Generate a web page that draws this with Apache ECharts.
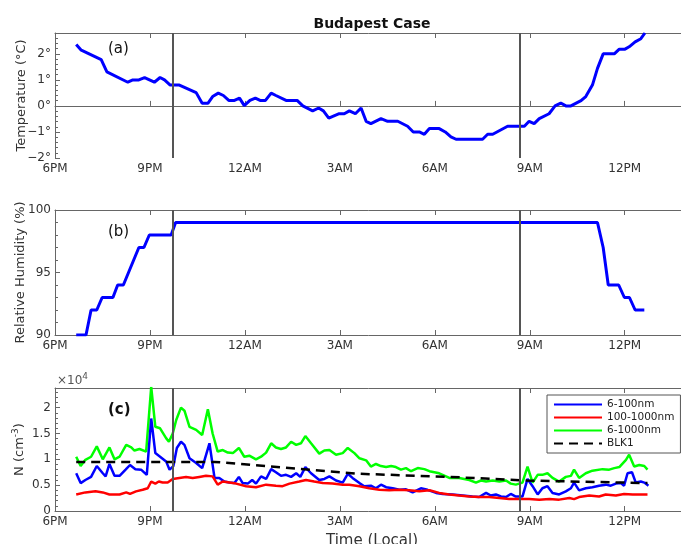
<!DOCTYPE html>
<html>
<head>
<meta charset="utf-8">
<script src="https://cdn.jsdelivr.net/npm/echarts@6/dist/echarts.min.js"></script>
<style>
  html, body { margin: 0; padding: 0; background: #fff; }
  #chart { width: 681px; height: 544px; }
</style>
</head>
<body>
<div id="chart"></div>
<script>
// Time is in hours after 6 PM local time.
const xTickLabels = ['6PM', '9PM', '12AM', '3AM', '6AM', '9AM', '12PM', '3PM'];
const eventHours = [3.72, 14.67];

// (a) Temperature, deg C
const tempHrs = [0.67, 0.83, 1.46, 1.64, 2.30, 2.46, 2.65, 2.83, 3.14, 3.32, 3.46, 3.64, 3.93, 4.46, 4.65, 4.83,
  4.98, 5.16, 5.32, 5.49, 5.67, 5.83, 5.98, 6.16, 6.33, 6.48, 6.65, 6.83, 6.98, 7.30, 7.65, 7.83, 8.14, 8.33,
  8.48, 8.65, 8.98, 9.14, 9.30, 9.49, 9.67, 9.83, 9.98, 10.30, 10.51, 10.83, 11.14, 11.32, 11.51, 11.67, 11.83,
  12.14, 12.33, 12.51, 12.67, 13.51, 13.67, 13.83, 14.30, 14.83, 14.98, 15.14, 15.30, 15.61, 15.80, 15.98,
  16.14, 16.30, 16.62, 16.77, 16.98, 17.14, 17.32, 17.67, 17.83, 18.01, 18.14, 18.33, 18.51, 18.64];
const tempC = [2.36, 2.14, 1.78, 1.31, 0.91, 1.00, 1.00, 1.09, 0.91, 1.09, 1.00, 0.80, 0.80, 0.51, 0.10, 0.10,
  0.36, 0.49, 0.40, 0.21, 0.21, 0.30, 0.01, 0.21, 0.30, 0.21, 0.21, 0.49, 0.40, 0.21, 0.21, 0.00, -0.19, -0.08,
  -0.19, -0.47, -0.30, -0.30, -0.19, -0.30, -0.08, -0.59, -0.68, -0.49, -0.59, -0.59, -0.78, -1.00, -1.00, -1.09, -0.87,
  -0.87, -1.00, -1.19, -1.28, -1.28, -1.09, -1.09, -0.78, -0.78, -0.59, -0.68, -0.49, -0.30, 0.00, 0.11,
  0.00, 0.00, 0.20, 0.36, 0.80, 1.44, 2.00, 2.00, 2.18, 2.18, 2.27, 2.46, 2.58, 2.80];

// (b) Relative humidity, %
const rhHrs = [0.67, 0.98, 1.14, 1.32, 1.49, 1.83, 1.98, 2.16, 2.65, 2.81, 2.98, 3.67, 3.81, 17.14, 17.32, 17.48,
  17.81, 17.99, 18.15, 18.33, 18.62];
const rhPct = [90, 90, 92, 92, 93, 93, 94, 94, 97, 97, 98, 98, 99, 99, 97, 94, 94, 93, 93, 92, 92];

// (c) Number concentration, units of 1e4 cm^-3
const n6to100Hrs = [0.67, 0.81, 0.96, 1.14, 1.32, 1.51, 1.60, 1.72, 1.88, 2.04, 2.23, 2.37, 2.54, 2.72, 2.90, 3.04,
  3.17, 3.32, 3.51, 3.62, 3.74, 3.85, 3.98, 4.09, 4.25, 4.46, 4.65, 4.88, 5.04, 5.19, 5.35, 5.51, 5.67, 5.81,
  5.93, 6.09, 6.23, 6.35, 6.51, 6.67, 6.83, 6.98, 7.14, 7.30, 7.46, 7.62, 7.75, 7.91, 8.09, 8.35, 8.51, 8.67,
  8.88, 9.09, 9.25, 9.40, 9.62, 9.77, 9.98, 10.14, 10.30, 10.46, 10.67, 10.88, 11.09, 11.30, 11.56, 11.77,
  12.04, 12.25, 12.56, 12.88, 13.19, 13.40, 13.62, 13.77, 13.93, 14.09, 14.25, 14.40, 14.56, 14.77, 14.93,
  15.09, 15.25, 15.40, 15.56, 15.72, 15.93, 16.14, 16.30, 16.40, 16.56, 16.77, 16.98, 17.19, 17.40, 17.56,
  17.72, 17.88, 17.98, 18.09, 18.23, 18.35, 18.51, 18.62, 18.75];
const n6to100 = [0.73, 0.54, 0.60, 0.66, 0.87, 0.73, 0.67, 0.91, 0.68, 0.68, 0.80, 0.89, 0.81, 0.80, 0.70, 1.79,
  1.12, 1.05, 0.96, 0.80, 0.87, 1.22, 1.34, 1.28, 1.02, 0.93, 0.83, 1.31, 0.64, 0.64, 0.57, 0.55, 0.54, 0.66,
  0.54, 0.53, 0.60, 0.53, 0.67, 0.62, 0.81, 0.75, 0.68, 0.70, 0.66, 0.73, 0.66, 0.85, 0.73, 0.60, 0.62, 0.67,
  0.59, 0.55, 0.72, 0.64, 0.54, 0.48, 0.49, 0.44, 0.51, 0.46, 0.44, 0.41, 0.42, 0.36, 0.44, 0.41,
  0.35, 0.33, 0.32, 0.30, 0.28, 0.27, 0.35, 0.30, 0.32, 0.28, 0.27, 0.33, 0.28, 0.28, 0.62,
  0.48, 0.32, 0.44, 0.48, 0.35, 0.32, 0.38, 0.44, 0.55, 0.40, 0.44, 0.46, 0.49, 0.51, 0.49,
  0.53, 0.54, 0.49, 0.73, 0.75, 0.55, 0.57, 0.55, 0.49];

const n100to1000Hrs = [0.67, 0.96, 1.28, 1.51, 1.72, 2.04, 2.25, 2.37, 2.56, 2.77, 2.93, 3.04, 3.17, 3.28, 3.40,
  3.56, 3.72, 3.93, 4.14, 4.35, 4.56, 4.77, 4.98, 5.14, 5.30, 5.51, 5.72, 6.04, 6.35, 6.67, 6.98, 7.19, 7.41,
  7.72, 7.93, 8.19, 8.46, 8.77, 9.09, 9.30, 9.62, 9.93, 10.25, 10.56, 10.88, 11.19, 11.51, 11.83, 12.14, 12.46,
  12.77, 13.09, 13.40, 13.72, 14.04, 14.35, 14.67, 14.98, 15.30, 15.62, 15.93, 16.25, 16.40, 16.56, 16.88,
  17.19, 17.40, 17.72, 17.98, 18.25, 18.72];
const n100to1000 = [0.32, 0.36, 0.38, 0.36, 0.32, 0.32, 0.36, 0.33, 0.38, 0.41, 0.44, 0.57, 0.53, 0.57, 0.55,
  0.55, 0.62, 0.64, 0.66, 0.64, 0.66, 0.68, 0.67, 0.51, 0.57, 0.55, 0.53, 0.48, 0.46, 0.51, 0.49, 0.48, 0.53,
  0.57, 0.60, 0.57, 0.54, 0.53, 0.51, 0.51, 0.48, 0.44, 0.41, 0.40, 0.41, 0.40, 0.38, 0.40, 0.35, 0.32,
  0.30, 0.28, 0.27, 0.27, 0.25, 0.23, 0.23, 0.23, 0.22, 0.23, 0.22, 0.25, 0.23, 0.27, 0.30,
  0.28, 0.32, 0.30, 0.33, 0.32, 0.32];

const n6to1000Hrs = [0.67, 0.81, 0.96, 1.14, 1.32, 1.51, 1.72, 1.88, 2.04, 2.25, 2.41, 2.51, 2.67, 2.88, 3.04,
  3.17, 3.32, 3.51, 3.60, 3.72, 3.83, 3.98, 4.09, 4.25, 4.46, 4.65, 4.83, 4.98, 5.14, 5.30, 5.46, 5.62, 5.81,
  5.98, 6.14, 6.35, 6.51, 6.67, 6.83, 6.98, 7.14, 7.30, 7.46, 7.62, 7.77, 7.91, 8.09, 8.35, 8.51, 8.67, 8.88,
  9.09, 9.25, 9.46, 9.62, 9.83, 9.98, 10.14, 10.30, 10.46, 10.62, 10.77, 10.93, 11.09, 11.25, 11.46, 11.67,
  11.83, 12.14, 12.46, 12.77, 13.09, 13.30, 13.46, 13.62, 13.83, 14.04, 14.25, 14.40, 14.56, 14.77, 14.93,
  15.09, 15.25, 15.40, 15.56, 15.72, 15.93, 16.14, 16.30, 16.40, 16.56, 16.77, 16.98, 17.30, 17.51, 17.67,
  17.83, 18.04, 18.14, 18.30, 18.46, 18.62, 18.72];
const n6to1000 = [1.05, 0.87, 0.99, 1.05, 1.25, 1.00, 1.23, 1.00, 1.05, 1.28, 1.23, 1.17, 1.20, 1.15, 2.40,
  1.63, 1.60, 1.41, 1.34, 1.50, 1.76, 2.00, 1.94, 1.63, 1.57, 1.47, 1.97, 1.50, 1.15, 1.18, 1.13, 1.12, 1.22,
  1.05, 1.07, 1.00, 1.05, 1.13, 1.31, 1.23, 1.20, 1.23, 1.34, 1.28, 1.31, 1.45, 1.31, 1.11, 1.17, 1.18, 1.09,
  1.12, 1.22, 1.12, 1.02, 0.98, 0.86, 0.91, 0.87, 0.85, 0.87, 0.85, 0.80, 0.83, 0.77, 0.83, 0.81,
  0.77, 0.73, 0.64, 0.64, 0.60, 0.55, 0.59, 0.57, 0.59, 0.57, 0.59, 0.53, 0.51, 0.55, 0.86,
  0.55, 0.70, 0.70, 0.73, 0.64, 0.57, 0.66, 0.68, 0.80, 0.64, 0.73, 0.78, 0.81, 0.80, 0.83,
  0.85, 0.99, 1.09, 0.86, 0.89, 0.87, 0.80];

const blkHrs = [0.67, 5.04, 9.62, 12.46, 14.90, 18.72];
const blkN = [0.95, 0.95, 0.72, 0.66, 0.59, 0.54];

const pairs = (xs, ys) => xs.map((x, i) => [x, ys[i]]);

const FONT = 'DejaVu Sans';
const AXIS_COLOR = '#666';
const TEXT_COLOR = '#333';
const GRID_LEFT = 55;
const GRID_WIDTH = 633;
const tops = [33, 210, 388];
const heights = [125, 125, 123];

function bottomAxis(g) {
  return {
    type: 'value', gridIndex: g, min: 0, max: 20, interval: 3,
    axisLine: { show: true, lineStyle: { color: AXIS_COLOR, width: 1 } },
    axisTick: { show: true, inside: true, length: 5, lineStyle: { color: AXIS_COLOR } },
    axisLabel: {
      show: true, margin: 5, fontFamily: FONT, fontSize: 12, color: TEXT_COLOR, showMaxLabel: false,
      formatter: v => xTickLabels[Math.round(v / 3)] || ''
    },
    splitLine: { show: false }
  };
}
function topAxis(g) {
  return {
    type: 'value', gridIndex: g, position: 'top', min: 0, max: 20, interval: 3,
    axisLine: { show: true, lineStyle: { color: AXIS_COLOR, width: 1 } },
    axisTick: { show: true, inside: true, length: 5, lineStyle: { color: AXIS_COLOR } },
    axisLabel: { show: false }, splitLine: { show: false }
  };
}
function leftAxis(g, opts) {
  return Object.assign({
    type: 'value', gridIndex: g,
    axisLine: { show: true, lineStyle: { color: AXIS_COLOR, width: 1 } },
    axisTick: { show: true, inside: true, length: 5, lineStyle: { color: AXIS_COLOR } },
    minorTick: { show: true, splitNumber: 5, length: 3, lineStyle: { color: AXIS_COLOR } },
    splitLine: { show: false },
    nameLocation: 'middle',
    nameMoveOverlap: false,
    nameTextStyle: { fontFamily: FONT, fontSize: 13, color: TEXT_COLOR }
  }, opts);
}

const markers = {
  silent: true, symbol: ['none', 'none'], label: { show: false },
  lineStyle: { color: '#555', width: 2, type: 'solid' },
  data: eventHours.map(h => ({ xAxis: h }))
};

const chart = echarts.init(document.getElementById('chart'), null, { renderer: 'canvas' });
chart.setOption({
  animation: false,
  backgroundColor: '#fff',
  textStyle: { fontFamily: FONT },
  grid: tops.map((t, i) => ({
    left: GRID_LEFT, top: t, width: GRID_WIDTH, height: heights[i],
    containLabel: false, outerBoundsMode: 'none'
  })),
  xAxis: [bottomAxis(0), topAxis(0), bottomAxis(1), topAxis(1), bottomAxis(2), topAxis(2)],
  yAxis: [
    leftAxis(0, {
      min: -2, max: 2.8, interval: 1, name: 'Temperature (°C)', nameGap: 27,
      axisLabel: { margin: 4, fontFamily: FONT, fontSize: 12, color: TEXT_COLOR, showMaxLabel: false,
        formatter: v => (v < 0 ? '\u2212' + (-v) : v) + '°' }
    }),
    leftAxis(1, {
      min: 90, max: 100, interval: 5, name: 'Relative Humidity (%)', nameGap: 28,
      axisLabel: { margin: 4, fontFamily: FONT, fontSize: 12, color: TEXT_COLOR }
    }),
    leftAxis(2, {
      min: 0, max: 2.38, interval: 0.5, name: 'N (cm{sup|-3})', nameGap: 27,
      nameTextStyle: { fontFamily: FONT, fontSize: 13, color: TEXT_COLOR,
        rich: { sup: { fontSize: 9, verticalAlign: 'top', padding: [0, 0, 8, 0], fontFamily: FONT, color: TEXT_COLOR } } },
      axisLabel: { margin: 4, fontFamily: FONT, fontSize: 12, color: TEXT_COLOR, showMaxLabel: false }
    })
  ],
  legend: {
    orient: 'vertical', left: 547, top: 395,
    data: ['6-100nm', '100-1000nm', '6-1000nm', 'BLK1'],
    itemWidth: 48, itemHeight: 11, itemGap: 2,
    padding: [4, 6, 4, 6],
    itemStyle: { opacity: 0, borderWidth: 0 },
    backgroundColor: '#fff', borderColor: '#555', borderWidth: 1, borderRadius: 0,
    textStyle: { fontFamily: FONT, fontSize: 10.5, color: '#222' }
  },
  series: [
    { type: 'line', name: 'Temperature', xAxisIndex: 0, yAxisIndex: 0, data: pairs(tempHrs, tempC),
      symbol: 'none', lineStyle: { color: '#0000ff', width: 3 }, markLine: markers },
    { type: 'line', name: 'RH', xAxisIndex: 2, yAxisIndex: 1, data: pairs(rhHrs, rhPct),
      symbol: 'none', lineStyle: { color: '#0000ff', width: 3 }, markLine: markers },
    { type: 'line', name: '6-1000nm', xAxisIndex: 4, yAxisIndex: 2, data: pairs(n6to1000Hrs, n6to1000),
      symbol: 'none', color: '#00ff00', lineStyle: { color: '#00ff00', width: 2.5 }, markLine: markers },
    { type: 'line', name: '6-100nm', xAxisIndex: 4, yAxisIndex: 2, data: pairs(n6to100Hrs, n6to100),
      symbol: 'none', color: '#0000ff', lineStyle: { color: '#0000ff', width: 2.5 } },
    { type: 'line', name: '100-1000nm', xAxisIndex: 4, yAxisIndex: 2, data: pairs(n100to1000Hrs, n100to1000),
      symbol: 'none', color: '#ff0000', lineStyle: { color: '#ff0000', width: 2.5 } },
    { type: 'line', name: 'BLK1', xAxisIndex: 4, yAxisIndex: 2, data: pairs(blkHrs, blkN),
      symbol: 'none', color: '#000', lineStyle: { color: '#000', width: 2.5, type: [9, 6] } }
  ],
  graphic: [
    { type: 'text', x: 372, y: 24, style: { text: 'Budapest Case', font: 'bold 14px "DejaVu Sans"', fill: '#111', textAlign: 'center', textVerticalAlign: 'middle' } },
    { type: 'text', x: 108, y: 49, style: { text: '(a)', font: '15px "DejaVu Sans"', fill: '#111', textVerticalAlign: 'middle' } },
    { type: 'text', x: 108, y: 232, style: { text: '(b)', font: '15px "DejaVu Sans"', fill: '#111', textVerticalAlign: 'middle' } },
    { type: 'text', x: 108, y: 410, style: { text: '(c)', font: 'bold 15px "DejaVu Sans"', fill: '#111', textVerticalAlign: 'middle' } },
    { type: 'text', x: 57, y: 381, style: { rich: { b: { font: '12px "DejaVu Sans"', fill: '#555' }, s: { font: '9px "DejaVu Sans"', fill: '#555', padding: [0, 0, 8, 0] } }, text: '{b|×10}{s|4}', textVerticalAlign: 'middle' } },
    { type: 'text', x: 372, y: 541, style: { text: 'Time (Local)', font: '15px "DejaVu Sans"', fill: '#333', textAlign: 'center', textVerticalAlign: 'middle' } }
  ]
});
</script>
</body>
</html>
